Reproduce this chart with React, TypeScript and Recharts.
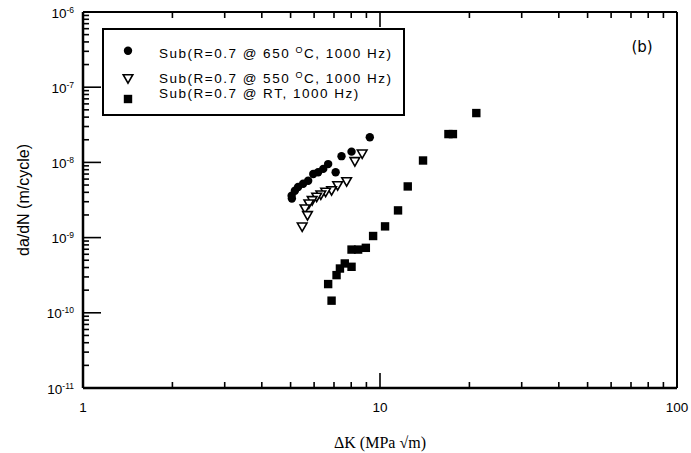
import React from "react";
import * as R from "recharts";
import { ScatterChart, Scatter, XAxis, YAxis, ReferenceLine, Legend } from "recharts";

// 650 C series (filled circles)
const dk650 = [9.24, 8.02, 7.42, 7.09, 6.69, 6.44, 6.19, 5.96, 5.73, 5.51, 5.3, 5.17, 5.04, 5.05];
const rate650 = [2.16e-8, 1.39e-8, 1.21e-8, 7.4e-9, 9.5e-9, 8.2e-9, 7.4e-9, 7.0e-9, 5.7e-9, 5.2e-9, 4.7e-9, 4.2e-9, 3.6e-9, 3.3e-9];

// 550 C series (open triangles)
const dk550 = [8.71, 8.23, 7.72, 7.2, 6.87, 6.56, 6.32, 6.12, 5.91, 5.76, 5.59, 5.7, 5.47];
const rate550 = [1.3e-8, 1.03e-8, 5.57e-9, 4.93e-9, 4.23e-9, 4.03e-9, 3.71e-9, 3.46e-9, 3.12e-9, 2.82e-9, 2.42e-9, 1.97e-9, 1.39e-9];

// RT series (filled squares)
const dkRT = [6.87, 6.69, 7.14, 7.33, 7.61, 8.02, 8.02, 8.44, 8.96, 9.48, 10.4, 11.5, 12.4, 13.96, 17.0, 17.6, 21.1];
const rateRT = [1.45e-10, 2.41e-10, 3.17e-10, 3.88e-10, 4.53e-10, 4.09e-10, 6.93e-10, 6.93e-10, 7.31e-10, 1.05e-9, 1.41e-9, 2.3e-9, 4.79e-9, 1.06e-8, 2.38e-8, 2.38e-8, 4.53e-8];

const seriesNames = [
  ["Sub(R=0.7 @ 650 ", "O", "C, 1000 Hz)"],
  ["Sub(R=0.7 @ 550 ", "O", "C, 1000 Hz)"],
  ["Sub(R=0.7 @ RT, 1000 Hz)", "", ""],
];

const xMajor = [1, 10, 100];
const yMajor = [1e-11, 1e-10, 1e-9, 1e-8, 1e-7, 1e-6];
const yExponents = ["-11", "-10", "-9", "-8", "-7", "-6"];
const minorSteps = [2, 3, 4, 5, 6, 7, 8, 9];

const xMin = xMajor[0];
const xMax = xMajor[xMajor.length - 1];
const yMin = yMajor[0];
const yMax = yMajor[yMajor.length - 1];

// tick values strictly inside the axis range (majors and minors)
const innerTicks = (majors: number[]) => {
  const out: number[] = [];
  majors.forEach((m, i) => {
    if (i > 0 && i < majors.length - 1) out.push(m);
    if (i < majors.length - 1) minorSteps.forEach((s) => out.push(m * s));
  });
  return out;
};
const xInner = innerTicks(xMajor);
const yInner = innerTicks(yMajor);

const isMajor = (v: number) => Math.abs(Math.log10(v) - Math.round(Math.log10(v))) < 1e-6;

const toPoints = (xs: number[], ys: number[]) => xs.map((x, i) => ({ dk: x, rate: ys[i] }));

const FONT = "'Liberation Sans', Arial, sans-serif";
const MARGIN = { top: 12, right: 14, bottom: 0, left: 0 };
const CHART_W = 691;
const CHART_H = 453;
const Y_AXIS_W = 83;
const X_AXIS_H = 65;

const XTick = (props: any) => {
  const { x, y, payload } = props;
  const v = payload.value;
  if (!isMajor(v)) return null;
  return (
    <text x={x} y={y + 24} textAnchor="middle" fontFamily={FONT} fontSize={13.5} fill="#000">
      {String(v)}
    </text>
  );
};

const YTick = (props: any) => {
  const { x, y, payload } = props;
  const v = payload.value;
  if (!isMajor(v)) return null;
  const idx = yMajor.findIndex((m) => Math.abs(Math.log10(m) - Math.log10(v)) < 1e-6);
  return (
    <text x={x - 9} y={y + 5.5} textAnchor="end" fontFamily={FONT} fontSize={13.5} fill="#000">
      <tspan>10</tspan>
      <tspan dy={-5} fontSize={8.5}>
        {yExponents[idx]}
      </tspan>
    </text>
  );
};

// inward log ticks on the bottom, top and left edges of the plot area
const usePlot = () => {
  const hook = (R as any).usePlotArea;
  const area = hook ? hook() : null;
  if (area && area.width > 0) return area;
  return {
    x: MARGIN.left + Y_AXIS_W,
    y: MARGIN.top,
    width: CHART_W - MARGIN.left - MARGIN.right - Y_AXIS_W,
    height: CHART_H - MARGIN.top - MARGIN.bottom - X_AXIS_H,
  };
};

const LogTicks = () => {
  const p = usePlot();
  const lx = (v: number) => p.x + (p.width * Math.log10(v / xMin)) / Math.log10(xMax / xMin);
  const ly = (v: number) => p.y + p.height - (p.height * Math.log10(v / yMin)) / Math.log10(yMax / yMin);
  const bottom = p.y + p.height;
  const top = p.y;
  return (
    <g className="log-ticks">
      {xInner.map((v) => {
        const len = isMajor(v) ? 15 : 6;
        const x = lx(v);
        return (
          <g key={`x${v}`}>
            <line x1={x} y1={bottom} x2={x} y2={bottom - len} stroke="#000" strokeWidth={1.6} />
            <line x1={x} y1={top} x2={x} y2={top + len} stroke="#000" strokeWidth={1.6} />
          </g>
        );
      })}
      {yInner.map((v) => {
        const len = isMajor(v) ? 18 : 6;
        const y = ly(v);
        return <line key={`y${v}`} x1={p.x} y1={y} x2={p.x + len} y2={y} stroke="#000" strokeWidth={1.6} />;
      })}
    </g>
  );
};

const circleShape = (p: any) => <circle cx={p.cx} cy={p.cy} r={4.2} fill="#000" />;
const squareShape = (p: any) => <rect x={p.cx - 4.2} y={p.cy - 4.2} width={8.4} height={8.4} fill="#000" />;
const triangleShape = (p: any) => (
  <polygon
    points={`${p.cx - 4.8},${p.cy - 3.8} ${p.cx + 4.8},${p.cy - 3.8} ${p.cx},${p.cy + 4.6}`}
    fill="#fff"
    stroke="#000"
    strokeWidth={1.6}
  />
);

const LegendBox = () => {
  const markerX = 26;
  const rows = [
    { my: 22.7, ty: 29.5 },
    { my: 50.5, ty: 54.5 },
    { my: 71, ty: 70 },
  ];
  return (
    <svg width={303} height={88} style={{ display: "block" }}>
      <rect x={1} y={1} width={301} height={86} fill="#fff" stroke="#000" strokeWidth={2} />
      {circleShape({ cx: markerX, cy: rows[0].my })}
      {triangleShape({ cx: markerX, cy: rows[1].my })}
      {squareShape({ cx: markerX, cy: rows[2].my })}
      {seriesNames.map((n, i) => (
        <text key={i} x={57} y={rows[i].ty} fontFamily={FONT} fontSize={13.5} letterSpacing={1.5} fill="#000">
          <tspan>{n[0]}</tspan>
          {n[1] && (
            <tspan dy={-5} fontSize={9}>
              {n[1]}
            </tspan>
          )}
          {n[2] && <tspan dy={5}>{n[2]}</tspan>}
        </text>
      ))}
    </svg>
  );
};

export default function App() {
  return (
    <div style={{ position: "absolute", left: 0, top: 0, width: CHART_W, height: CHART_H, background: "#fff" }}>
      <ScatterChart width={CHART_W} height={CHART_H} margin={MARGIN}>
        <XAxis
          dataKey="dk"
          type="number"
          scale="log"
          domain={[xMin, xMax]}
          ticks={xMajor}
          interval={0}
          tick={<XTick />}
          tickSize={0}
          tickMargin={0}
          tickLine={false}
          axisLine={false}
          height={X_AXIS_H}
          allowDataOverflow
        />
        <YAxis
          dataKey="rate"
          type="number"
          scale="log"
          domain={[yMin, yMax]}
          ticks={yMajor}
          interval={0}
          tick={<YTick />}
          tickSize={0}
          tickMargin={0}
          tickLine={false}
          axisLine={false}
          width={Y_AXIS_W}
          allowDataOverflow
        />
        <ReferenceLine x={xMin} stroke="#000" strokeWidth={2.5} />
        <ReferenceLine x={xMax} stroke="#000" strokeWidth={2} />
        <ReferenceLine y={yMin} stroke="#000" strokeWidth={2.5} />
        <ReferenceLine y={yMax} stroke="#000" strokeWidth={2} />
        <LogTicks />
        <Legend
          layout="vertical"
          align="center"
          verticalAlign="middle"
          wrapperStyle={{ left: 102, top: 28, width: 303, height: 88 }}
          content={() => <LegendBox />}
        />
        <Scatter name="650" data={toPoints(dk650, rate650)} shape={circleShape} isAnimationActive={false} />
        <Scatter name="550" data={toPoints(dk550, rate550)} shape={triangleShape} isAnimationActive={false} />
        <Scatter name="RT" data={toPoints(dkRT, rateRT)} shape={squareShape} isAnimationActive={false} />
        <text x={642} y={52} textAnchor="middle" fontFamily="'DejaVu Sans', sans-serif" fontSize={15} fill="#000">
          (b)
        </text>
        <text x={380} y={448} textAnchor="middle" fontFamily="'Liberation Serif', 'Times New Roman', serif" fontSize={16} fill="#000">
          ΔK  (MPa √m)
        </text>
        <text
          x={29}
          y={200}
          transform="rotate(-90 29 200)"
          textAnchor="middle"
          fontFamily={FONT}
          fontSize={16}
          fill="#000"
        >
          da/dN (m/cycle)
        </text>
      </ScatterChart>
    </div>
  );
}
